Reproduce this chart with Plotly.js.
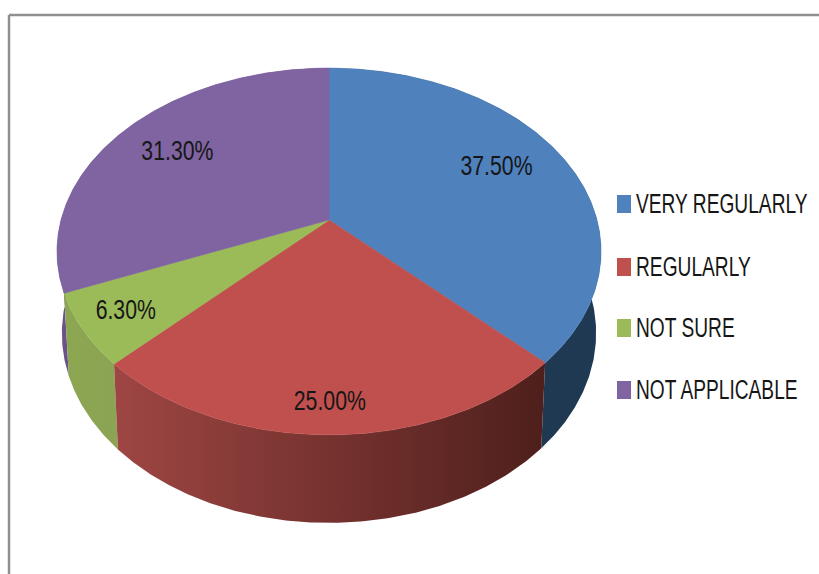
<!DOCTYPE html>
<html>
<head>
<meta charset="utf-8">
<script src="https://cdn.plot.ly/plotly-3.0.1.min.js"></script>
<style>html,body{margin:0;padding:0;background:#fff;overflow:hidden}</style>
</head>
<body>
<div id="chart" style="width:819px;height:574px"></div>
<script>
// Data
const categories = ['VERY REGULARLY', 'REGULARLY', 'NOT SURE', 'NOT APPLICABLE'];
const values = [37.5, 25.0, 6.3, 31.3];

// Styling
const topColors = ['#4F81BD', '#C0504D', '#9BBB59', '#8064A2'];
const wallColors = ['#1F3953', '#9E4643', '#8CA650', '#6B5289'];
const wallEndColors = ['#1F3953', '#4E1F1C', '#8BA455', '#6B5289'];
const FONT = '"Liberation Sans", Arial, sans-serif';
const TEXT = '#161616';

// Projection of the tilted disc (perspective view) onto the axes
const view = {cx: 329, cy: 220, R: 268, a: 178, k: 0.1717, wallXScale: 0.982, wallYScale: 1.035, wallShift: 80.5};
function project(frac, r) {
  const t = frac * 2 * Math.PI;
  const X = Math.sin(t) * r, Y = -Math.cos(t) * r;
  const w = 1 - view.k * Y;
  return [view.cx + view.R * X / w, view.cy + view.a * Y / w];
}
function lower(p) {
  return [view.cx + (p[0] - view.cx) * view.wallXScale,
          view.cy + (p[1] - view.cy) * view.wallYScale + view.wallShift];
}

const total = values.reduce((s, v) => s + v, 0);
const starts = [];
values.reduce((c, v, i) => { starts[i] = c; return c + v / total; }, 0);
function arc(i) {
  const f0 = starts[i], f1 = f0 + values[i] / total;
  const n = Math.ceil((f1 - f0) * 720);
  const pts = [];
  for (let j = 0; j <= n; j++) pts.push(project(f0 + (f1 - f0) * j / n, 1));
  return pts;
}

const traces = [];
// Walls first, then faces above them
[0, 3, 2, 1].forEach(i => {
  const top = arc(i);
  const bot = top.map(lower).reverse();
  const pts = top.concat(bot);
  pts.push(top[0]);
  traces.push({
    type: 'scatter', mode: 'lines', hoverinfo: 'skip', showlegend: false,
    x: pts.map(p => p[0]), y: pts.map(p => p[1]),
    fill: 'toself', line: {width: 0},
    fillcolor: wallColors[i],
    fillgradient: {type: 'horizontal', colorscale: [[0, wallColors[i]], [1, wallEndColors[i]]]}
  });
});
values.forEach((v, i) => {
  const pts = [[view.cx, view.cy]].concat(arc(i));
  pts.push([view.cx, view.cy]);
  traces.push({
    type: 'scatter', mode: 'lines', name: categories[i],
    x: pts.map(p => p[0]), y: pts.map(p => p[1]),
    fill: 'toself', fillcolor: topColors[i],
    line: {width: 0.6, color: topColors[i]}, showlegend: false,
    text: categories[i] + ': ' + v.toFixed(2) + '%', hoverinfo: 'text'
  });
});

// Value labels, placed along each slice's mid angle
const labelR = [0.735, 0.86, 0.84, 0.727];
const labelNudge = [[-6, -4], [0, 3], [0, 1], [0, 0]];
const labelPts = values.map((v, i) => {
  const p = project(starts[i] + v / total / 2, labelR[i]);
  return [p[0] + labelNudge[i][0], p[1] + labelNudge[i][1]];
});
const labelSqueeze = 0.76, legendSqueeze = 0.685;
traces.push({
  type: 'scatter', mode: 'text', showlegend: false, hoverinfo: 'skip',
  x: labelPts.map(p => p[0]), y: labelPts.map(p => p[1]),
  text: values.map(v => v.toFixed(2) + '%'),
  textposition: 'middle center',
  textfont: {family: FONT, size: 28, color: TEXT}
});

// Legend drawn to the picture's stretched swatches
const legendRows = [204, 267, 328, 390];
const legendTextDrop = 2.5;
const shapes = [
  {type: 'line', x0: 9, x1: 819, y0: 15, y1: 15, line: {color: '#8f8f8f', width: 2.5}},
  {type: 'line', x0: 9, x1: 9, y0: 15, y1: 574, line: {color: '#8f8f8f', width: 2.5}}
];
categories.forEach((c, i) => {
  shapes.push({type: 'rect', x0: 617, x1: 631, y0: legendRows[i] - 9, y1: legendRows[i] + 9,
    fillcolor: topColors[i], line: {width: 0}});
});
traces.push({
  type: 'scatter', mode: 'text', showlegend: false, hoverinfo: 'skip',
  x: categories.map(() => 636), y: legendRows.map(y => y + legendTextDrop),
  text: categories,
  textposition: 'middle right',
  textfont: {family: FONT, size: 28, color: TEXT}
});

Plotly.newPlot('chart', traces, {
  width: 819, height: 574,
  margin: {l: 0, r: 0, t: 0, b: 0},
  paper_bgcolor: '#fff', plot_bgcolor: '#fff',
  xaxis: {range: [0, 819], visible: false, fixedrange: true},
  yaxis: {range: [574, 0], visible: false, fixedrange: true},
  showlegend: false,
  shapes: shapes
}, {displayModeBar: false, responsive: false}).then(gd => {
  // The reference's type is horizontally squeezed: narrow each text about its anchor
  gd.querySelectorAll('.scatterlayer .textpoint text').forEach(el => {
    const s = categories.includes(el.textContent) ? legendSqueeze : labelSqueeze;
    const x = parseFloat(el.getAttribute('x'));
    el.setAttribute('transform', 'translate(' + x + ',0) scale(' + s + ',1) translate(' + (-x) + ',0)');
  });
});
</script>
</body>
</html>
